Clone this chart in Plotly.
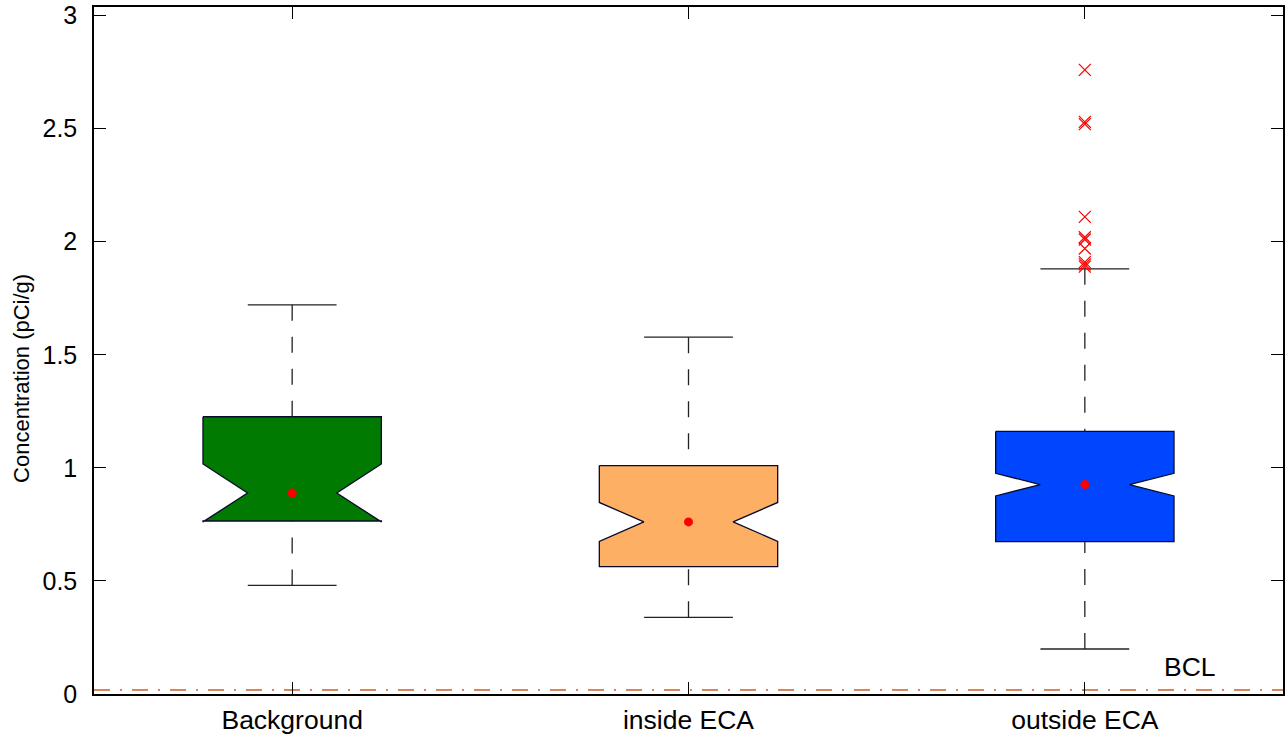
import plotly.graph_objects as go

# box statistics
groups = ['Background', 'inside ECA', 'outside ECA']
positions = [1, 2, 3]
q1 = [0.765, 0.563, 0.674]
median = [0.889, 0.761, 0.926]
q3 = [1.226, 1.010, 1.161]
notch_span = [0.128, 0.086, 0.050]
lower_whisker = [0.480, 0.339, 0.199]
upper_whisker = [1.721, 1.578, 1.880]
means = [0.889, 0.761, 0.926]
box_colors = ['#007a00', '#fdb064', '#0046ff']

outlier_values = [2.76, 2.53, 2.52, 2.11, 2.02, 2.01, 1.97, 1.91, 1.90, 1.89]
outlier_group = 3

bcl_value = 0.018
bcl_color = '#c8602c'

half_w = 0.225     # half box width (x units)
cap_half = 0.112

fig = go.Figure()

for i in range(3):
    x = positions[i]
    lo_n = median[i] - notch_span[i]
    hi_n = median[i] + notch_span[i]
    # notched box outline (MATLAB style, no median line)
    bx = [x - half_w, x + half_w, x + half_w, x + half_w / 2, x + half_w, x + half_w,
          x - half_w, x - half_w, x - half_w / 2, x - half_w, x - half_w]
    by = [q3[i], q3[i], hi_n, median[i], lo_n, q1[i],
          q1[i], lo_n, median[i], hi_n, q3[i]]
    fig.add_trace(go.Scatter(x=bx, y=by, mode='lines', fill='toself',
                             fillcolor=box_colors[i],
                             line=dict(color='#0a0a2a', width=1.3),
                             showlegend=False, hoverinfo='skip'))
    # dashed whiskers from caps toward box
    fig.add_trace(go.Scatter(x=[x, x], y=[upper_whisker[i], q3[i]], mode='lines',
                             line=dict(color='#222222', width=1.3, dash='16px,16px'),
                             showlegend=False, hoverinfo='skip'))
    fig.add_trace(go.Scatter(x=[x, x], y=[lower_whisker[i], q1[i]], mode='lines',
                             line=dict(color='#222222', width=1.3, dash='16px,16px'),
                             showlegend=False, hoverinfo='skip'))
    # whisker caps
    for w in (upper_whisker[i], lower_whisker[i]):
        fig.add_trace(go.Scatter(x=[x - cap_half, x + cap_half], y=[w, w], mode='lines',
                                 line=dict(color='#222222', width=1.3),
                                 showlegend=False, hoverinfo='skip'))

# mean markers
fig.add_trace(go.Scatter(x=positions, y=means, mode='markers',
                         marker=dict(color='red', size=9),
                         showlegend=False, hoverinfo='skip'))

# outliers
fig.add_trace(go.Scatter(x=[outlier_group] * len(outlier_values), y=outlier_values, mode='markers',
                         marker=dict(symbol='x-thin', size=12, line=dict(color='red', width=1.2)),
                         showlegend=False, hoverinfo='skip'))

# BCL line
fig.add_trace(go.Scatter(x=[0.5, 3.5], y=[bcl_value, bcl_value], mode='lines',
                         line=dict(color=bcl_color, width=1.5, dash='16px,10px,2px,10px'),
                         showlegend=False, hoverinfo='skip'))

font_family = 'Arial, Liberation Sans, sans-serif'
fig.add_annotation(x=3.265, y=0.12, text='BCL', showarrow=False,
                   font=dict(family=font_family, size=26.5, color='black'))

# y axis title
fig.add_annotation(xref='paper', yref='paper', x=-0.0606, y=0.46,
                   text='Concentration (pCi/g)', textangle=-90, showarrow=False,
                   xanchor='center', yanchor='middle',
                   font=dict(family=font_family, size=22, color='black'))

x_font = dict(family=font_family, size=26.5, color='black')
y_font = dict(family=font_family, size=25, color='black')

fig.update_layout(
    width=1286, height=738,
    margin=dict(l=94, r=3, t=7, b=44),
    paper_bgcolor='white', plot_bgcolor='white',
    font=y_font,
    xaxis=dict(range=[0.5, 3.5], tickvals=positions, ticktext=groups,
               showline=True, linecolor='black', linewidth=1.5, mirror='ticks',
               ticks='inside', ticklen=12, tickcolor='black', showgrid=False,
               zeroline=False, tickfont=x_font, automargin=False,
               ticklabelstandoff=1),
    yaxis=dict(range=[0, 3.038], tickvals=[0, 0.5, 1, 1.5, 2, 2.5, 3],
               ticktext=['0', '0.5', '1', '1.5', '2', '2.5', '3'],
               showline=True, linecolor='black', linewidth=1.5, mirror='ticks',
               ticks='inside', ticklen=12, tickcolor='black', showgrid=False,
               zeroline=False, tickfont=y_font, automargin=False,
               ticklabelstandoff=10),
)

# the page's default body margin would shift the figure by 8px
fig.write_html("out.html", config={'displayModeBar': False},
               post_script="document.body.style.margin='0';")
